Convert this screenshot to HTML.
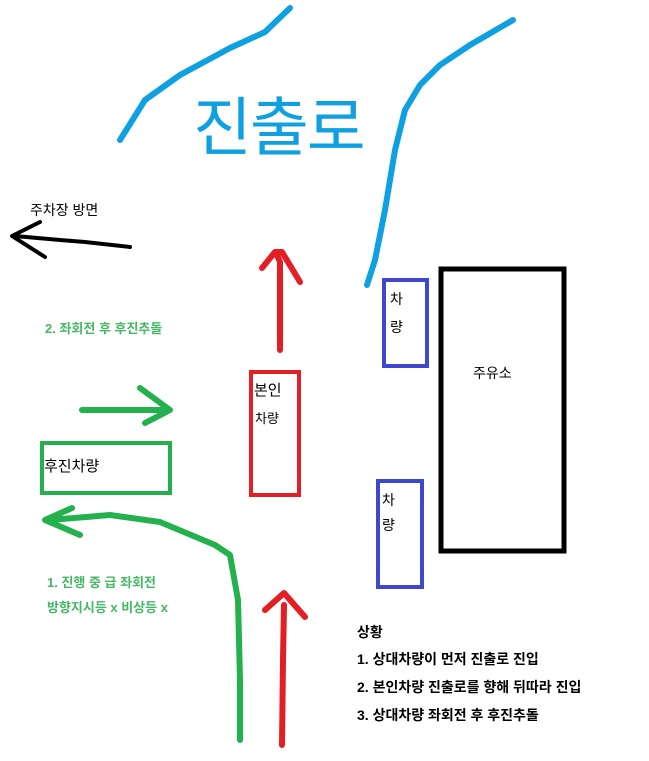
<!DOCTYPE html>
<html><head><meta charset="utf-8"><style>
html,body{margin:0;padding:0;background:#fff}
svg{display:block}
text{font-family:"Liberation Sans","Noto Sans CJK KR","NanumGothic",sans-serif}
</style></head><body>
<svg width="649" height="761" viewBox="0 0 649 761" xmlns="http://www.w3.org/2000/svg">
<g fill="none" stroke-linecap="round" stroke-linejoin="round">
<path d="M290,8 L265,32 L230,48 L180,75 L145,100 L120,140" stroke="#0ea0e0" stroke-width="6"/>
<path d="M513,20 L470,45 L440,65 L420,85 L405,110 L395,150 L385,210 L375,260 L367,285" stroke="#0ea0e0" stroke-width="6"/>
<path d="M130,247 L85,242 L60,240 L15,236 M40,222 L12,236 L45,257" stroke="#000" stroke-width="4"/>
<path d="M280,350 L280,262 L277,255 M262,268 L275,252 L282,252 L300,282" stroke="#e31e24" stroke-width="6"/>
<path d="M282,745 L283,660 L284,605 M265,610 L284,593 L305,617" stroke="#e31e24" stroke-width="6"/>
<path d="M82,410 L170,410 M140,388 L170,410 L145,423" stroke="#22b14c" stroke-width="6"/>
<path d="M240,740 L240,680 L238,600 L230,555 L215,545 L160,522 L110,515 L50,520 M72,508 L45,520 L80,535" stroke="#22b14c" stroke-width="6"/>
</g>
<g fill="none">
<rect x="251" y="372" width="48" height="123" stroke="#e31e24" stroke-width="4"/>
<rect x="384" y="280" width="43" height="86" stroke="#3f48cc" stroke-width="4"/>
<rect x="378" y="481" width="44" height="106" stroke="#3f48cc" stroke-width="4"/>
<rect x="441" y="269" width="123" height="282" stroke="#000" stroke-width="5"/>
<rect x="42" y="443" width="128" height="50" stroke="#22b14c" stroke-width="4"/>
</g>
<text x="193" y="150" font-size="64" fill="#0ea0e0" letter-spacing="-2">진출로</text>
<text x="30" y="215" font-size="14" fill="#000">주차장 방면</text>
<text x="254" y="395" font-size="15" fill="#000">본인</text>
<text x="255" y="423" font-size="13" fill="#000">차량</text>
<text x="390" y="304" font-size="14" fill="#000">차</text>
<text x="390" y="332" font-size="14" fill="#000">량</text>
<text x="382" y="505" font-size="14" fill="#000">차</text>
<text x="382" y="530" font-size="14" fill="#000">량</text>
<text x="473" y="378" font-size="14" fill="#000">주유소</text>
<text x="44" y="471" font-size="15" fill="#000">후진차량</text>
<text x="45" y="333" font-size="13" fill="#45b865" font-weight="bold">2. 좌회전 후 후진추돌</text>
<text x="47" y="587" font-size="13" fill="#45b865" font-weight="bold">1. 진행 중 급 좌회전</text>
<text x="47" y="612" font-size="13" fill="#45b865" font-weight="bold">방향지시등 x 비상등 x</text>
<text x="357" y="637" font-size="14" fill="#000" font-weight="bold">상황</text>
<text x="357" y="664" font-size="14" fill="#000" font-weight="bold">1. 상대차량이 먼저 진출로 진입</text>
<text x="357" y="692" font-size="14" fill="#000" font-weight="bold">2. 본인차량 진출로를 향해 뒤따라 진입</text>
<text x="357" y="720" font-size="14" fill="#000" font-weight="bold">3. 상대차량 좌회전 후 후진추돌</text>
</svg>
</body></html>
